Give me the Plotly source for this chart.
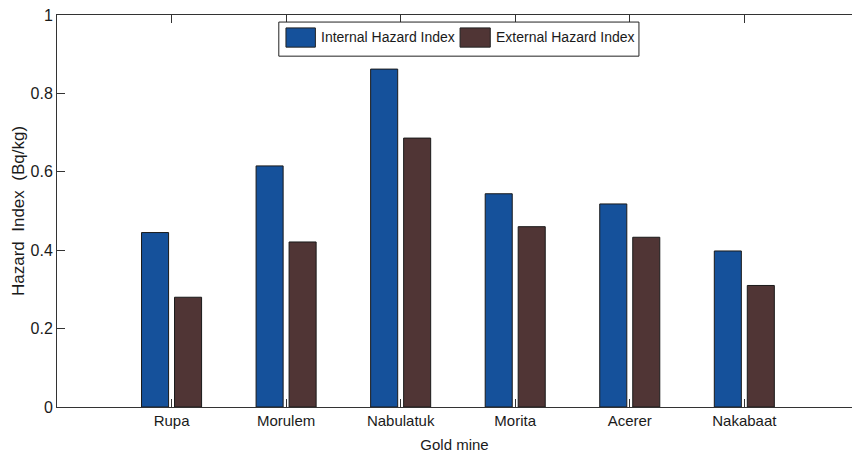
import plotly.graph_objects as go

# Hazard indices for each gold mine
mines = ["Rupa", "Morulem", "Nabulatuk", "Morita", "Acerer", "Nakabaat"]
internal_index = [0.445, 0.615, 0.862, 0.544, 0.518, 0.398]
external_index = [0.280, 0.421, 0.686, 0.460, 0.433, 0.310]
y_ticks = [0, 0.2, 0.4, 0.6, 0.8, 1]
y_tick_labels = ["0", "0.2", "0.4", "0.6", "0.8", "1"]

series_names = ["Internal Hazard Index", "External Hazard Index"]
series_colors = ["#15519b", "#503535"]

sans = "Liberation Sans, Arial, sans-serif"

fig = go.Figure()
for name, vals, col in zip(series_names, [internal_index, external_index], series_colors):
    fig.add_trace(go.Bar(
        x=mines, y=vals, name=name,
        marker=dict(color=col, line=dict(color="#1a1a1a", width=1)),
        showlegend=False,
    ))

fig.update_layout(
    width=852, height=457,
    margin=dict(l=57, r=0, t=15, b=50),
    paper_bgcolor="white", plot_bgcolor="white",
    barmode="group", bargap=0.424, bargroupgap=0.18,
    font=dict(family=sans, size=15, color="#1a1a1a"),
    xaxis=dict(
        range=[-1, 5.94], showgrid=False, zeroline=False,
        showline=True, linecolor="#333", linewidth=1, mirror="ticks",
        ticks="inside", ticklen=8, tickcolor="#333",
        tickfont=dict(family=sans, size=15),
        title=dict(text="Gold mine", font=dict(family=sans, size=15), standoff=11),
    ),
    yaxis=dict(
        range=[0, 1], showgrid=False, zeroline=False,
        showline=True, linecolor="#333", linewidth=1,
        ticks="inside", ticklen=8, tickcolor="#333",
        tickvals=y_ticks, ticktext=y_tick_labels,
        tickfont=dict(family=sans, size=16),
        title=dict(text="Hazard  Index  (Bq/kg)",
                   font=dict(family=sans, size=17),
                   standoff=1),
    ),
)

# Boxed legend with wide colour swatches
fig.add_shape(type="rect", xref="paper", yref="paper",
              x0=0.279, x1=0.732, y0=0.895, y1=0.982,
              line=dict(color="#222", width=1), fillcolor="white", layer="above")
swatch_x = [(0.288, 0.325), (0.507, 0.545)]
label_x = [0.330, 0.550]
for (sx0, sx1), lx, name, col in zip(swatch_x, label_x, series_names, series_colors):
    fig.add_shape(type="rect", xref="paper", yref="paper",
                  x0=sx0, x1=sx1, y0=0.918, y1=0.967,
                  line=dict(color="#222", width=1), fillcolor=col, layer="above")
    fig.add_annotation(x=lx, y=0.943, xref="paper", yref="paper",
                       text=name, showarrow=False, xanchor="left", yanchor="middle",
                       font=dict(family=sans, size=14, color="#1a1a1a"))

fig.write_html("out.html")
